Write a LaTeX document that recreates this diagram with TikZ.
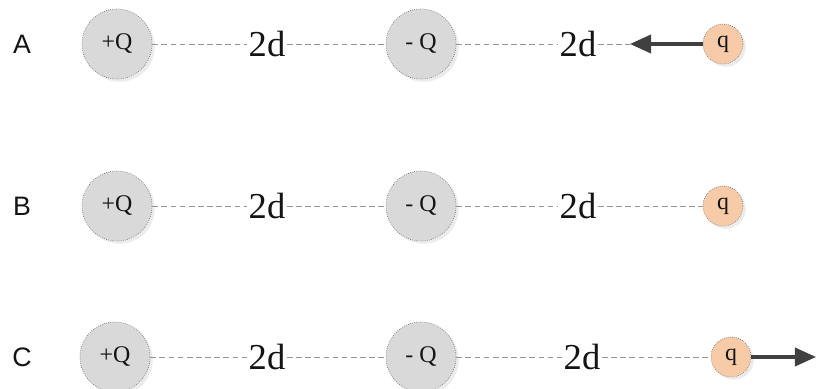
\documentclass[tikz,border=0pt]{standalone}
\usepackage{fontspec}
\setmainfont{Liberation Serif}
\newfontfamily\labelfont{Liberation Sans}
\usetikzlibrary{
    arrows.meta,
    positioning,
    shadows
}
\definecolor{chargeGray}{RGB}{217, 217, 217}
\definecolor{rimGray}{RGB}{120, 120, 120}
\definecolor{testPeach}{RGB}{248, 203, 168}
\definecolor{lineGray}{RGB}{150, 150, 150}
\definecolor{arrowDark}{RGB}{64, 64, 64}
\definecolor{textBlack}{RGB}{20, 20, 20}
\def\picW{20.425}
\def\picH{9.725}
\tikzset{
    bigCharge/.style={
        circle,
        minimum size=1.75cm,
        inner sep=0pt,
        fill=chargeGray,
        draw=rimGray,
        densely dotted,
        line width=0.5pt,
        drop shadow={shadow xshift=2pt, shadow yshift=-2pt, opacity=0.15},
        font=\fontsize{17}{19}\selectfont,
        text=textBlack
    },
    testCharge/.style={
        circle,
        minimum size=1cm,
        inner sep=0pt,
        fill=testPeach,
        draw=rimGray,
        densely dotted,
        line width=0.5pt,
        drop shadow={shadow xshift=2pt, shadow yshift=-2pt, opacity=0.15},
        font=\fontsize{17}{19}\selectfont,
        text=textBlack
    },
    distLabel/.style={
        inner sep=1pt,
        font=\fontsize{26}{28}\selectfont,
        text=textBlack
    },
    rowLabel/.style={
        font=\labelfont\fontsize{19}{21}\selectfont,
        text=textBlack
    },
    gap/.style={
        dash pattern=on 4pt off 2.5pt,
        draw=lineGray,
        line width=0.7pt
    },
    force/.style={
        draw=arrowDark,
        line width=2.2pt,
        -{Triangle[length=15pt, width=13pt]}
    }
}

\begin{document}
\begin{tikzpicture}
    \useasboundingbox (0,0) rectangle (\picW, \picH);

    % Row A: force on q points left
    \node[rowLabel] (labA) at (0.55, 8.625) {A};
    \node[bigCharge] (plusA) at (2.925, 8.625) {+Q};
    \node[distLabel] (dA1) at (6.675, 8.625) {2d};
    \node[bigCharge] (minusA) at (10.525, 8.625) {- Q};
    \node[distLabel] (dA2) at (14.45, 8.625) {2d};
    \node[testCharge] (qA) at (18.075, 8.625) {q};
    \coordinate (tipA) at (15.75, 8.625);
    \draw[gap] (plusA) -- (dA1);
    \draw[gap] (dA1) -- (minusA);
    \draw[gap] (minusA) -- (dA2);
    \draw[gap] (dA2) -- (tipA);
    \draw[force] (qA) -- (tipA);

    % Row B: no force
    \node[rowLabel] (labB) at (0.55, 4.575) {B};
    \node[bigCharge] (plusB) at (2.925, 4.575) {+Q};
    \node[distLabel] (dB1) at (6.675, 4.575) {2d};
    \node[bigCharge] (minusB) at (10.525, 4.575) {- Q};
    \node[distLabel] (dB2) at (14.45, 4.575) {2d};
    \node[testCharge] (qB) at (18.075, 4.575) {q};
    \draw[gap] (plusB) -- (dB1);
    \draw[gap] (dB1) -- (minusB);
    \draw[gap] (minusB) -- (dB2);
    \draw[gap] (dB2) -- (qB);

    % Row C: force on q points right
    \node[rowLabel] (labC) at (0.55, 0.8) {C};
    \node[bigCharge] (plusC) at (2.875, 0.8) {+Q};
    \node[distLabel] (dC1) at (6.675, 0.8) {2d};
    \node[bigCharge] (minusC) at (10.525, 0.8) {- Q};
    \node[distLabel] (dC2) at (14.55, 0.8) {2d};
    \node[testCharge] (qC) at (18.275, 0.8) {q};
    \coordinate (tipC) at (20.4, 0.8);
    \draw[gap] (plusC) -- (dC1);
    \draw[gap] (dC1) -- (minusC);
    \draw[gap] (minusC) -- (dC2);
    \draw[gap] (dC2) -- (qC);
    \draw[force] (qC) -- (tipC);
\end{tikzpicture}
\end{document}
